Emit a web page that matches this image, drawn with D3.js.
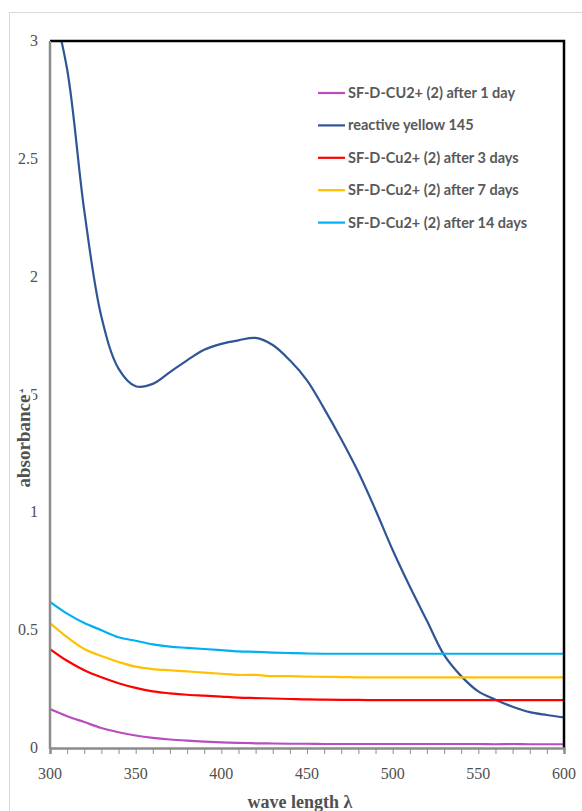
<!DOCTYPE html>
<html lang="en">
<head>
    <meta charset="UTF-8">
    <title>absorbance</title>
    <script src="https://cdn.jsdelivr.net/npm/d3@7"></script>
    <style>
        body { margin: 0; background: #fff; }
    </style>
</head>
<body>

<script>
    // wavelength grid (nm) shared by every curve
    var wavelength = [300,310,320,330,340,350,360,370,380,390,400,410,420,430,440,450,
                      460,470,480,490,500,510,520,530,540,550,560,570,580,590,600];

    var day1   = [0.165,0.135,0.11,0.085,0.067,0.053,0.043,0.036,0.031,0.027,0.024,0.022,0.020,0.019,0.018,0.018,
                  0.017,0.017,0.017,0.017,0.017,0.017,0.017,0.017,0.017,0.017,0.016,0.017,0.016,0.016,0.016];
    var ry145  = [3.2,2.88,2.28,1.83,1.61,1.535,1.545,1.595,1.645,1.69,1.715,1.73,1.74,1.71,1.645,1.56,
                  1.44,1.31,1.17,1.01,0.84,0.685,0.54,0.395,0.305,0.24,0.205,0.175,0.152,0.14,0.13];
    var day3   = [0.42,0.37,0.33,0.30,0.275,0.255,0.24,0.232,0.226,0.222,0.218,0.214,0.212,0.210,0.208,0.206,
                  0.205,0.204,0.204,0.203,0.203,0.203,0.203,0.203,0.203,0.203,0.203,0.203,0.203,0.203,0.203];
    var day7   = [0.53,0.47,0.42,0.39,0.365,0.345,0.335,0.33,0.325,0.32,0.315,0.31,0.31,0.305,0.305,0.303,
                  0.302,0.301,0.30,0.30,0.30,0.30,0.30,0.30,0.30,0.30,0.30,0.30,0.30,0.30,0.30];
    var day14  = [0.62,0.57,0.53,0.50,0.47,0.455,0.44,0.43,0.425,0.42,0.415,0.41,0.408,0.405,0.403,0.401,
                  0.40,0.40,0.40,0.40,0.40,0.40,0.40,0.40,0.40,0.40,0.40,0.40,0.40,0.40,0.40];

    var seriesNames  = ["SF-D-CU2+ (2) after 1 day","reactive yellow 145","SF-D-Cu2+ (2) after 3 days",
                        "SF-D-Cu2+ (2) after 7 days","SF-D-Cu2+ (2) after 14 days"];
    var seriesValues = [day1, ry145, day3, day7, day14];
    var seriesColors = ["#b84dbe","#2f5597","#ff0000","#ffc000","#00b0f0"];

    var xTicks = [300,350,400,450,500,550,600];
    var yTicks = [0,0.5,1,1.5,2,2.5,3];

    var width = 582, height = 811;
    var pLeft = 50, pRight = 564, pTop = 41, pBottom = 748;

    var svg = d3.select('body')
            .append('svg')
            .attr('width', width)
            .attr('height', height);

    // outer chart frame
    svg.append('rect')
            .attr('x', 9.5).attr('y', 12.5)
            .attr('width', 600).attr('height', 820)
            .attr('fill', 'none')
            .attr('stroke', '#d9d9d9');

    var x = d3.scaleLinear().domain([300, 600]).range([pLeft, pRight]);
    var y = d3.scaleLinear().domain([0, 3]).range([pBottom, pTop]);

    svg.append('clipPath').attr('id', 'plot')
            .append('rect')
            .attr('x', pLeft).attr('y', pTop)
            .attr('width', pRight - pLeft).attr('height', pBottom - pTop);

    var line = d3.line()
            .x(function(d){ return x(d[0]); })
            .y(function(d){ return y(d[1]); })
            .curve(d3.curveCatmullRom.alpha(0.5));

    svg.append('g')
            .attr('clip-path', 'url(#plot)')
            .selectAll('path')
            .data(seriesValues)
            .enter()
            .append('path')
            .attr('fill', 'none')
            .attr('stroke', function(d,i){ return seriesColors[i]; })
            .attr('stroke-width', 2.2)
            .attr('d', function(d){
                return line(d.map(function(v,i){ return [wavelength[i], v]; }));
            });

    // black top and right border
    svg.append('path')
            .attr('d', 'M' + pLeft + ',' + pTop + 'H' + pRight + 'V' + pBottom)
            .attr('fill', 'none')
            .attr('stroke', '#000')
            .attr('stroke-width', 2.5);

    // x axis with minor ticks every 10 nm
    var xAxis = svg.append('g')
            .attr('transform', 'translate(0,' + pBottom + ')')
            .call(d3.axisBottom(x).tickValues(d3.range(300, 601, 10)).tickSize(6).tickFormat(''));
    xAxis.select('.domain').attr('stroke', '#8c8c8c').attr('stroke-width', 2.5);
    xAxis.selectAll('.tick line').attr('stroke', '#8c8c8c').attr('stroke-width', 1);

    svg.append('g').selectAll('text')
            .data(xTicks)
            .enter()
            .append('text')
            .attr('x', function(d){ return x(d); })
            .attr('y', 779)
            .attr('text-anchor', 'middle')
            .attr('font-family', 'Liberation Serif, serif')
            .attr('font-size', 16)
            .attr('fill', '#505050')
            .text(function(d){ return d; });

    // y axis: plain gray line and labels
    svg.append('line')
            .attr('x1', pLeft).attr('x2', pLeft)
            .attr('y1', pTop).attr('y2', pBottom + 1)
            .attr('stroke', '#8c8c8c')
            .attr('stroke-width', 2.5);

    svg.append('g').selectAll('text')
            .data(yTicks)
            .enter()
            .append('text')
            .attr('x', 38)
            .attr('y', function(d){ return y(d) + 5; })
            .attr('text-anchor', 'end')
            .attr('font-family', 'Liberation Serif, serif')
            .attr('font-size', 16)
            .attr('fill', '#505050')
            .text(function(d){ return d; });

    // y title sits on a white box that hides part of the 1.5 label, as in the original
    var yTitle = svg.append('g').attr('transform', 'translate(30,441) rotate(-90)');
    var yTitleText = yTitle.append('text')
            .attr('text-anchor', 'middle')
            .attr('font-family', 'Liberation Serif, serif')
            .attr('font-weight', 'bold')
            .attr('font-size', 19)
            .attr('fill', '#505050')
            .text('absorbance');
    var bb = yTitleText.node().getBBox();
    yTitle.insert('rect', 'text')
            .attr('x', bb.x - 2).attr('y', bb.y + 1)
            .attr('width', bb.width + 4).attr('height', bb.height - 2)
            .attr('fill', '#fff');

    svg.append('text')
            .attr('x', 300)
            .attr('y', 808)
            .attr('text-anchor', 'middle')
            .attr('font-family', 'Liberation Serif, serif')
            .attr('font-weight', 'bold')
            .attr('font-size', 18)
            .attr('fill', '#505050')
            .text('wave length λ');

    // legend
    var legend = svg.append('g').selectAll('g')
            .data(seriesNames)
            .enter()
            .append('g')
            .attr('transform', function(d,i){ return 'translate(318,' + (93 + i * 32.4) + ')'; });
    legend.append('line')
            .attr('x1', 0).attr('x2', 27)
            .attr('stroke', function(d,i){ return seriesColors[i]; })
            .attr('stroke-width', 2.2);
    legend.append('text')
            .attr('x', 30)
            .attr('y', 5)
            .attr('font-family', 'Lato, sans-serif')
            .attr('font-weight', 'bold')
            .attr('font-size', 14.5)
            .attr('fill', '#595959')
            .text(function(d){ return d; });
</script>
</body>
</html>
